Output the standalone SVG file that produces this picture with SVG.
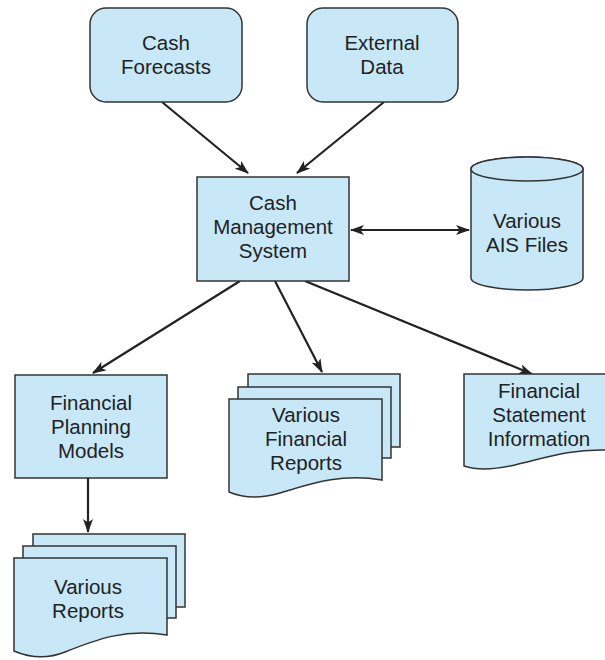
<svg xmlns="http://www.w3.org/2000/svg" width="605" height="660" viewBox="0 0 605 660">
<defs>
<style>
.n{fill:#c8e8f8;stroke:#333;stroke-width:1.5}
.t{font-family:"Liberation Sans",Arial,sans-serif;font-size:20.5px;fill:#222;text-anchor:middle}
.c{stroke:#222;stroke-width:2.2;fill:none}
</style>
<marker id="ah" viewBox="0 0 14 10" refX="13" refY="5" markerWidth="14" markerHeight="10" markerUnits="userSpaceOnUse" orient="auto-start-reverse">
<path d="M0,0 L14,5 L0,10 L3.5,5 Z" fill="#222"/>
</marker>
</defs>
<rect width="605" height="660" fill="#fff"/>
<g id="connectors">
<line class="c" x1="162" y1="102" x2="248" y2="173" marker-end="url(#ah)"/>
<line class="c" x1="384" y1="102" x2="297" y2="173" marker-end="url(#ah)"/>
<line class="c" x1="351" y1="230" x2="469" y2="230" marker-start="url(#ah)" marker-end="url(#ah)"/>
<line class="c" x1="240" y1="281" x2="93" y2="373" marker-end="url(#ah)"/>
<line class="c" x1="275" y1="281" x2="322" y2="372" marker-end="url(#ah)"/>
<line class="c" x1="305" y1="281" x2="532" y2="374" marker-end="url(#ah)"/>
<line class="c" x1="88" y1="478" x2="88" y2="532" marker-end="url(#ah)"/>
</g>
<g id="cash-forecasts">
<rect class="n" x="90" y="8" width="152" height="94" rx="16"/>
<text class="t" x="166" y="50">Cash</text>
<text class="t" x="166" y="74">Forecasts</text>
</g>
<g id="external-data">
<rect class="n" x="307" y="8" width="151" height="94" rx="16"/>
<text class="t" x="382" y="50">External</text>
<text class="t" x="382" y="74">Data</text>
</g>
<g id="cash-management-system">
<rect class="n" x="197" y="177" width="152" height="104"/>
<text class="t" x="273" y="210">Cash</text>
<text class="t" x="273" y="234">Management</text>
<text class="t" x="273" y="258">System</text>
</g>
<g id="ais-files">
<path class="n" d="M471,169 V278 A56,12 0 0 0 583,278 V169 A56,12 0 0 0 471,169 Z"/>
<ellipse class="n" cx="527" cy="169" rx="56" ry="12"/>
<text class="t" x="527" y="228">Various</text>
<text class="t" x="527" y="252">AIS Files</text>
</g>
<g id="financial-planning-models">
<rect class="n" x="15" y="375" width="152" height="103"/>
<text class="t" x="91" y="410">Financial</text>
<text class="t" x="91" y="434">Planning</text>
<text class="t" x="91" y="458">Models</text>
</g>
<g id="various-reports">
<rect class="n" x="33" y="534" width="152" height="73"/>
<rect class="n" x="23" y="546" width="153" height="72"/>
<path class="n" d="M14,558 H167 V635 C125,628 95,640 65,652 C45,660 28,657 14,651 Z"/>
<text class="t" x="88" y="594">Various</text>
<text class="t" x="88" y="618">Reports</text>
</g>
<g id="various-financial-reports">
<rect class="n" x="248" y="374" width="152" height="73"/>
<rect class="n" x="238" y="387" width="153" height="71"/>
<path class="n" d="M229,399 H382 V480 C340,473 310,484 280,493 C260,499 243,498 229,492 Z"/>
<text class="t" x="306" y="422">Various</text>
<text class="t" x="306" y="446">Financial</text>
<text class="t" x="306" y="470">Reports</text>
</g>
<g id="financial-statement-information">
<path class="n" d="M464,374 H606 V450 C570,449 545,458 515,465 C493,470 476,470 464,466 Z"/>
<text class="t" x="539" y="398">Financial</text>
<text class="t" x="539" y="422">Statement</text>
<text class="t" x="539" y="446">Information</text>
</g>
</svg>
